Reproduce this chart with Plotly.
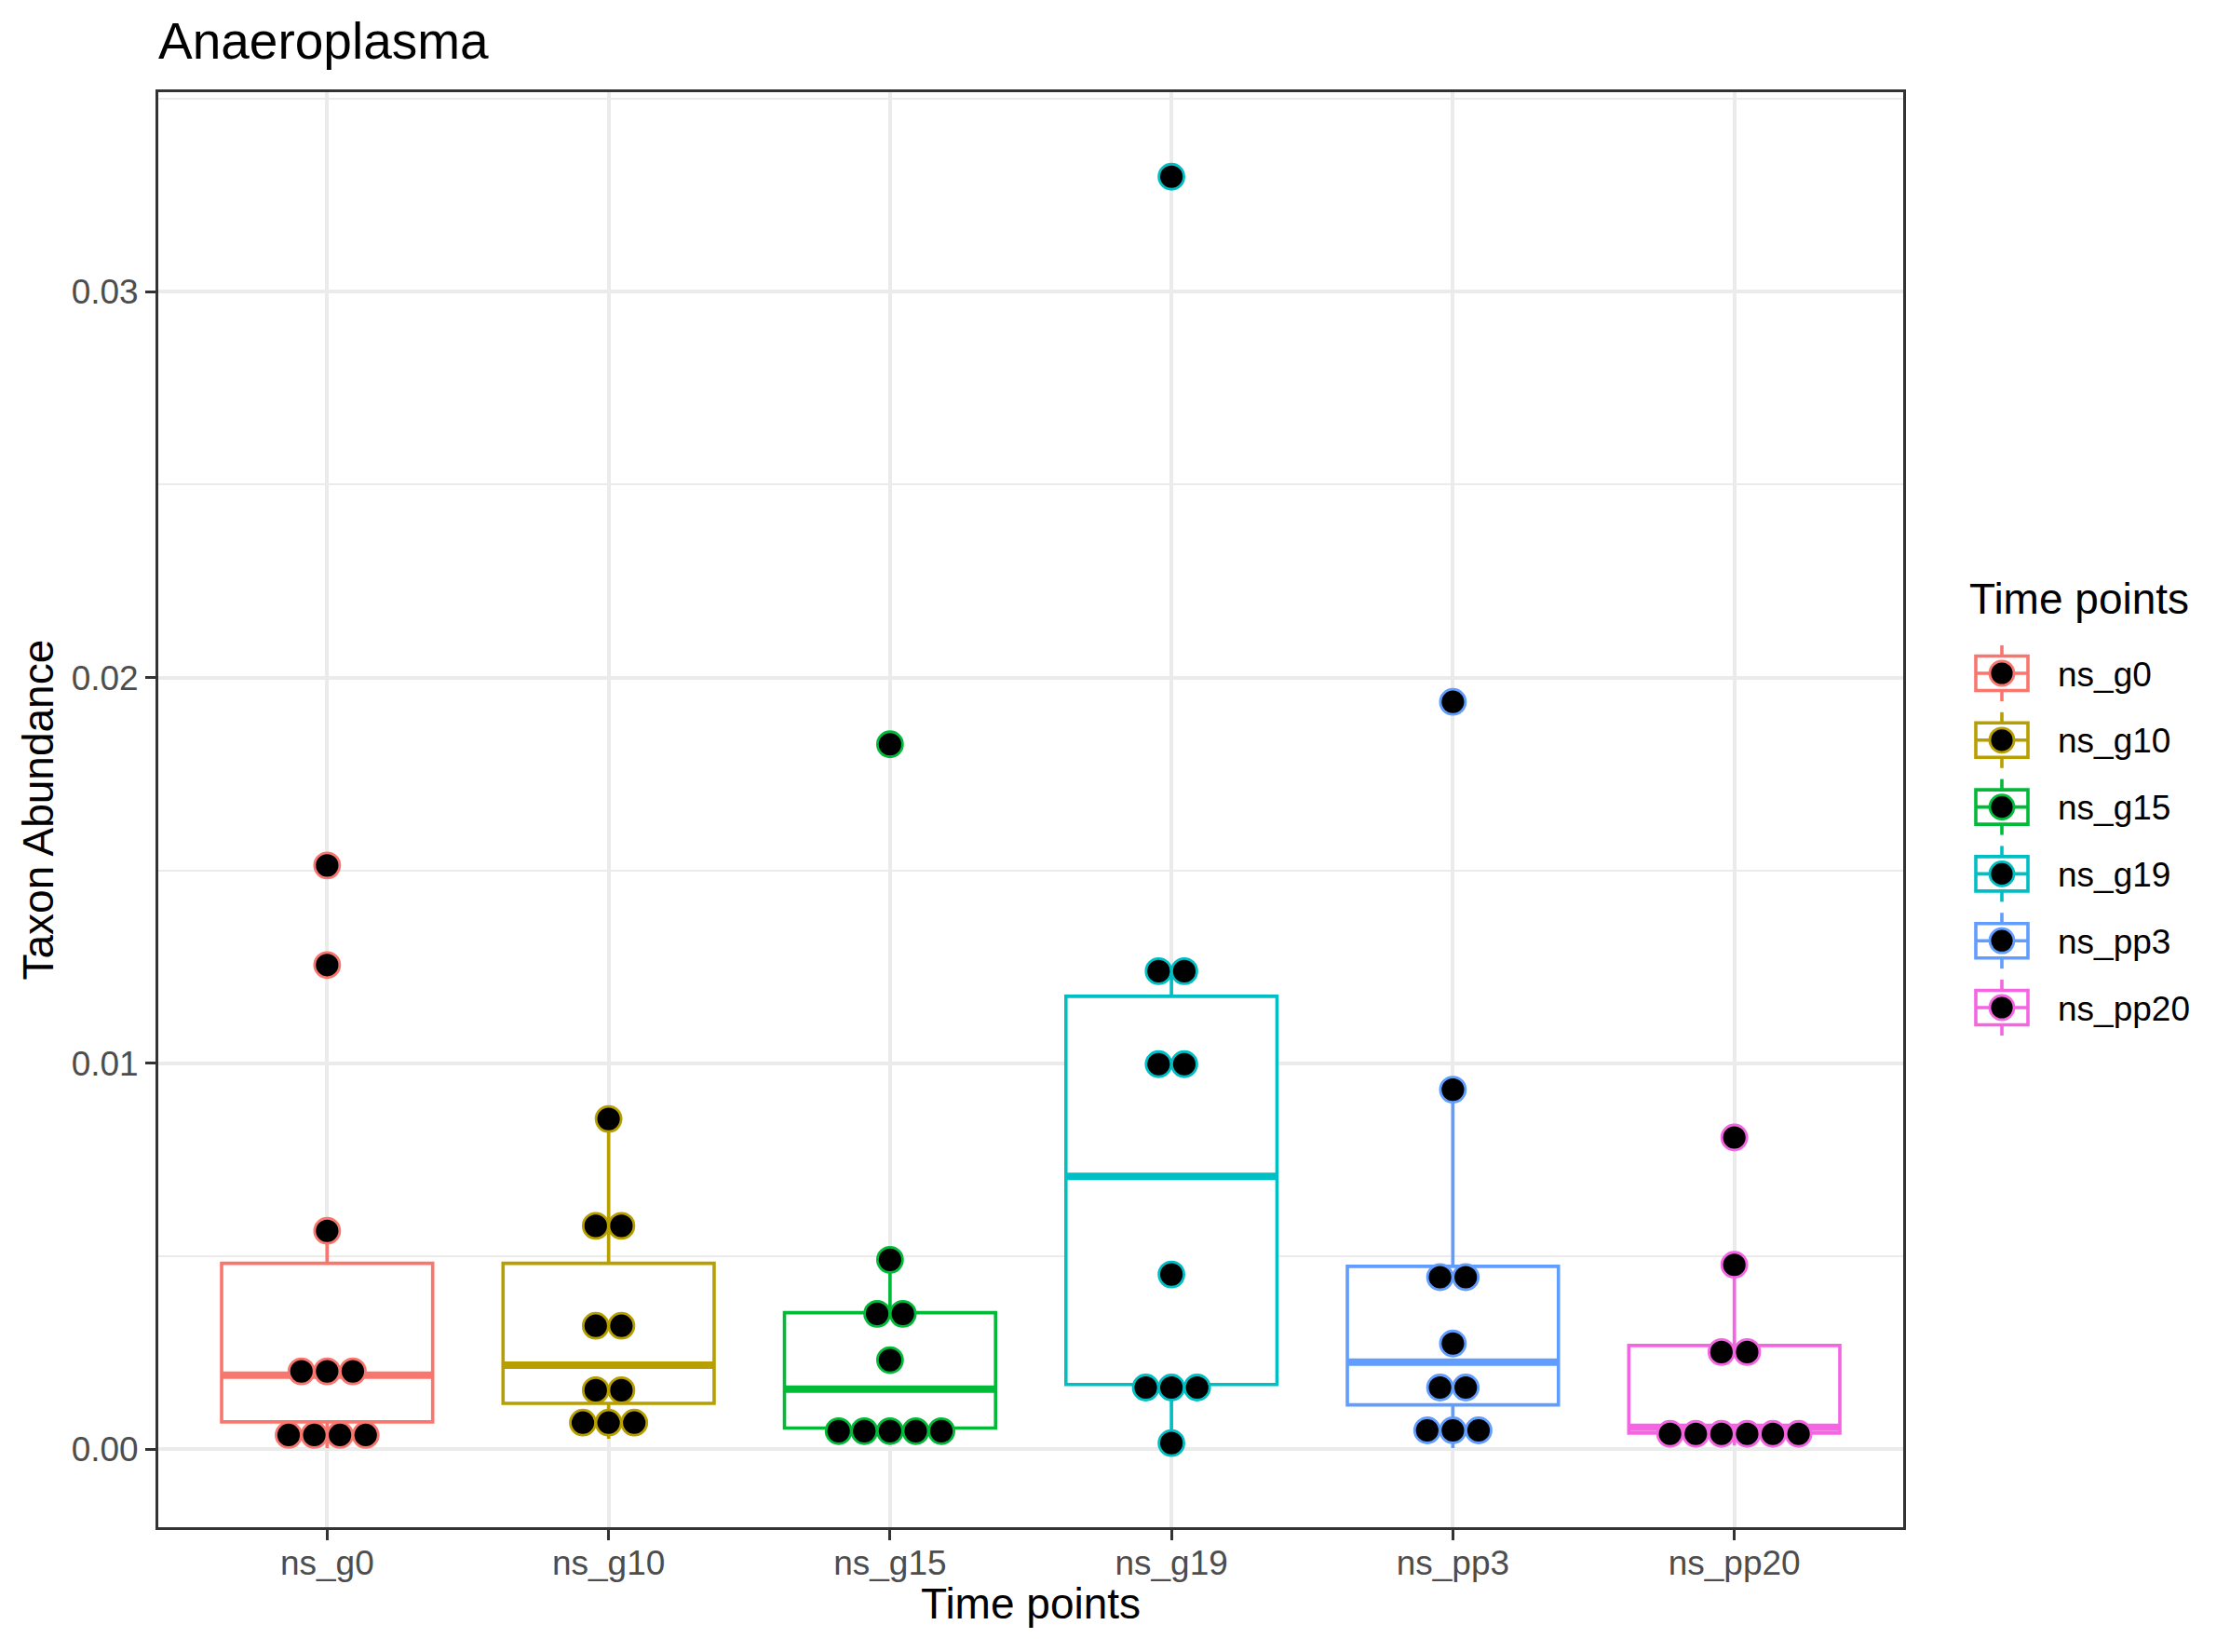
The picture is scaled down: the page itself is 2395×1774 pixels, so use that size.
import plotly.graph_objects as go

# ---------------- data ----------------
categories = ["ns_g0", "ns_g10", "ns_g15", "ns_g19", "ns_pp3", "ns_pp20"]
colors = ["#F8766D", "#B79F00", "#00BA38", "#00BFC4", "#619CFF", "#F564E3"]

# box statistics
q1 = [0.00071, 0.00119, 0.00055, 0.00168, 0.00115, 0.00042]
median = [0.00192, 0.00218, 0.00156, 0.00707, 0.00226, 0.00057]
q3 = [0.00482, 0.00482, 0.00354, 0.01174, 0.00474, 0.00269]
lower_fence = [0.00003, 0.00027, 0.00050, 0.00016, 0.00003, 0.00010]
upper_fence = [0.00566, 0.00856, 0.00491, 0.01239, 0.00932, 0.00478]

# dot (binned) values per group
dots_ns_g0 = [0.00037, 0.00037, 0.00037, 0.00037, 0.00202, 0.00202, 0.00202, 0.00566, 0.01255, 0.01513]
dots_ns_g10 = [0.00069, 0.00069, 0.00069, 0.00153, 0.00153, 0.00320, 0.00320, 0.00579, 0.00579, 0.00856]
dots_ns_g15 = [0.00047, 0.00047, 0.00047, 0.00047, 0.00047, 0.00231, 0.00351, 0.00351, 0.00491, 0.01827]
dots_ns_g19 = [0.00016, 0.00160, 0.00160, 0.00160, 0.00453, 0.00998, 0.00998, 0.01239, 0.01239, 0.03298]
dots_ns_pp3 = [0.00049, 0.00049, 0.00049, 0.00160, 0.00160, 0.00274, 0.00446, 0.00446, 0.00932, 0.01937]
dots_ns_pp20 = [0.00040, 0.00040, 0.00040, 0.00040, 0.00040, 0.00040, 0.00252, 0.00252, 0.00478, 0.00808]
dots = [dots_ns_g0, dots_ns_g10, dots_ns_g15, dots_ns_g19, dots_ns_pp3, dots_ns_pp20]

y_ticks = [0.0, 0.01, 0.02, 0.03]
y_tick_labels = ["0.00", "0.01", "0.02", "0.03"]

# ---------------- style ----------------
FONT = "Liberation Sans, Arial, Helvetica, sans-serif"
W, H = 2395, 1774
BODY = 8  # default page body margin
L, R, T, B = 170, 2044, 99, 1640
BOX_W = 0.75
DOT_STEP = 0.0913
BOX_LW = 3.6
MED_LW = 8
GRID_C = "#EBEBEB"

fig = go.Figure()

for i, cat in enumerate(categories):
    fig.add_trace(go.Box(
        x=[i], q1=[q1[i]], median=[median[i]], q3=[q3[i]],
        lowerfence=[lower_fence[i]], upperfence=[upper_fence[i]],
        width=BOX_W, fillcolor="white", whiskerwidth=0,
        line=dict(color=colors[i], width=BOX_LW),
        boxpoints=False, showlegend=False, hoverinfo="skip",
    ))
    # thick median line (ggplot fatten)
    fig.add_trace(go.Scatter(
        x=[i - BOX_W / 2, i + BOX_W / 2], y=[median[i], median[i]],
        mode="lines", line=dict(color=colors[i], width=MED_LW),
        showlegend=False, hoverinfo="skip",
    ))

for i, vals in enumerate(dots):
    xs, ys = [], []
    levels = []
    for v in vals:
        if v not in levels:
            levels.append(v)
    for v in levels:
        n = vals.count(v)
        for k in range(n):
            xs.append(i + (k - (n - 1) / 2) * DOT_STEP)
            ys.append(v)
    fig.add_trace(go.Scatter(
        x=xs, y=ys, mode="markers",
        marker=dict(symbol="circle", size=27, color="black",
                    line=dict(color=colors[i], width=2.8)),
        showlegend=False, hoverinfo="skip",
    ))

# ---------------- layout ----------------
def px_x(xp):
    return (xp - L) / (R - L)

def px_y(yp):
    return (B - yp) / (B - T)

shapes = []
annotations = []

# custom legend (ggplot style keys)
leg_cx = 2150
leg_y0 = 723
leg_dy = 71.8
for i, cat in enumerate(categories):
    cy = leg_y0 + i * leg_dy
    c = colors[i]
    shapes.append(dict(type="line", xref="paper", yref="paper",
                       x0=px_x(leg_cx), x1=px_x(leg_cx), y0=px_y(cy - 30), y1=px_y(cy + 30),
                       line=dict(color=c, width=BOX_LW)))
    shapes.append(dict(type="rect", xref="paper", yref="paper",
                       x0=px_x(leg_cx - 28), x1=px_x(leg_cx + 28), y0=px_y(cy - 18.5), y1=px_y(cy + 18.5),
                       line=dict(color=c, width=BOX_LW), fillcolor="white"))
    shapes.append(dict(type="line", xref="paper", yref="paper",
                       x0=px_x(leg_cx - 28), x1=px_x(leg_cx + 28), y0=px_y(cy), y1=px_y(cy),
                       line=dict(color=c, width=BOX_LW)))
    shapes.append(dict(type="circle", xref="paper", yref="paper",
                       x0=px_x(leg_cx - 13), x1=px_x(leg_cx + 13), y0=px_y(cy - 13), y1=px_y(cy + 13),
                       line=dict(color=c, width=2.8), fillcolor="black"))
    annotations.append(dict(text=cat, xref="paper", yref="paper", x=px_x(2208), y=px_y(cy + 1),
                            xanchor="left", yanchor="middle", showarrow=False,
                            font=dict(family=FONT, size=37, color="black")))

annotations.append(dict(text="Time points", xref="paper", yref="paper", x=px_x(2113), y=px_y(643),
                        xanchor="left", yanchor="middle", showarrow=False,
                        font=dict(family=FONT, size=46, color="black")))
# title
annotations.append(dict(text="Anaeroplasma", xref="paper", yref="paper", x=px_x(168), y=px_y(44),
                        xanchor="left", yanchor="middle", showarrow=False,
                        font=dict(family=FONT, size=55, color="black")))
# axis titles
annotations.append(dict(text="Time points", xref="paper", yref="paper", x=0.5, y=px_y(1722),
                        xanchor="center", yanchor="middle", showarrow=False,
                        font=dict(family=FONT, size=46, color="black")))
annotations.append(dict(text="Taxon Abundance", xref="paper", yref="paper", x=px_x(40), y=0.5,
                        xanchor="center", yanchor="middle", showarrow=False, textangle=-90,
                        font=dict(family=FONT, size=46, color="black")))

fig.update_layout(
    width=W - 2 * BODY, height=H - 2 * BODY,
    margin=dict(l=L - BODY, r=W - R - BODY, t=T - BODY, b=H - B - BODY, pad=0),
    plot_bgcolor="white", paper_bgcolor="white",
    font=dict(family=FONT),
    shapes=shapes, annotations=annotations,
    showlegend=False,
)
fig.update_xaxes(
    range=[-0.6, 5.6], tickmode="array", tickvals=list(range(len(categories))), ticktext=categories,
    showgrid=True, gridcolor=GRID_C, gridwidth=3.8, zeroline=False,
    ticks="outside", ticklen=11, tickwidth=2.8, tickcolor="#333333",
    tickfont=dict(family=FONT, size=37, color="#4D4D4D"), ticklabelstandoff=-7,
    showline=True, mirror=True, linecolor="#333333", linewidth=2.8,
)
fig.update_yaxes(
    range=[-0.00202, 0.03517], tickmode="array", tickvals=y_ticks, ticktext=y_tick_labels,
    showgrid=True, gridcolor=GRID_C, gridwidth=3.8, zeroline=False,
    minor=dict(tickmode="linear", tick0=0, dtick=0.005, showgrid=True, gridcolor=GRID_C, gridwidth=1.9, ticks=""),
    ticks="outside", ticklen=11, tickwidth=2.8, tickcolor="#333333",
    tickfont=dict(family=FONT, size=37, color="#4D4D4D"),
    showline=True, mirror=True, linecolor="#333333", linewidth=2.8,
)

fig.write_html("out.html")
